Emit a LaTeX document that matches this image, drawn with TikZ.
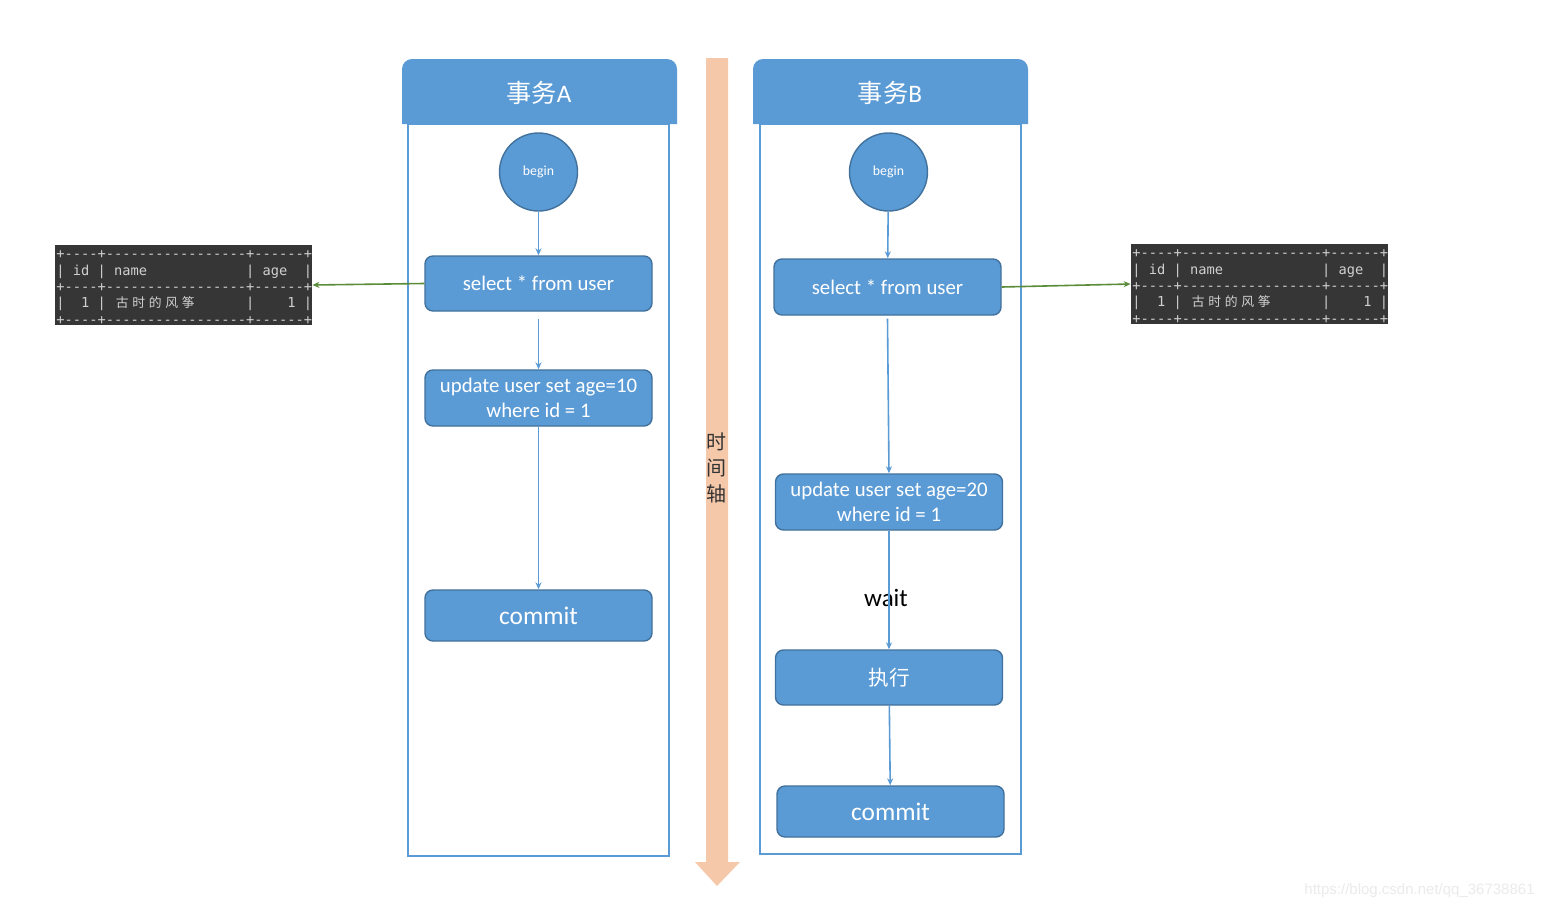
\documentclass[tikz,border=0pt]{standalone}
\usepackage{fontspec}
\setmainfont{Carlito}
\newfontfamily\cjk{Noto Sans CJK SC}
\newfontfamily\mono{DejaVu Sans Mono}[Ligatures=TeXOff]
\newfontfamily\wm{Liberation Sans}
\usetikzlibrary{arrows.meta}
\definecolor{boxblue}{HTML}{5B9BD5}
\definecolor{boxedge}{HTML}{41719C}
\definecolor{timeor}{HTML}{F6C8AA}
\definecolor{tabbg}{HTML}{363636}
\definecolor{tabfg}{HTML}{D0D0D0}
\definecolor{grn}{HTML}{5B8C3A}
\newlength\cw
\setlength\cw{4.124pt}
\newcommand\tabf{\mono\fontsize{6.85pt}{8pt}\selectfont}
\newcommand\cn[1]{\hbox to 2\cw{\hss\cjk\fontsize{6.4pt}{8pt}\selectfont #1\hss}}
\newcommand\sqltab[3]{%
  \begin{scope}[shift={(#2,#3)}]
    \node[tabbox] (#1) at (183.5,285) {};
    \node[tabrow] (#1-r1) at (56,255) {\tabf +----+-----------------+------+};
    \node[tabrow] (#1-r2) at (56,272) {\tabf |~id~|~name~~~~~~~~~~~~|~age~~|};
    \node[tabrow] (#1-r3) at (56,288) {\tabf +----+-----------------+------+};
    \node[tabrow] (#1-r4) at (56,304) {{\tabf |~~1~|~}\cn{古}\cn{时}\cn{的}\cn{风}\cn{筝}{\tabf ~~~~~~|~~~~1~|}};
    \node[tabrow] (#1-r5) at (56,321) {\tabf +----+-----------------+------+};
  \end{scope}}
\begin{document}
\begin{tikzpicture}[x=0.5pt,y=-0.5pt,
  stepbox/.style={draw=boxedge, line width=0.7pt, fill=boxblue, rounded corners=4pt,
    minimum width=113.5pt, text=white, font=\fontsize{10.4pt}{12.5pt}\selectfont,
    align=center, inner sep=0pt},
  beginnode/.style={circle, draw=boxedge, line width=0.7pt, fill=boxblue, minimum size=39pt,
    text=white, font=\fontsize{6.9pt}{8pt}\selectfont, inner sep=0pt},
  flow/.style={draw=boxblue, line width=0.8pt, -{Stealth[length=3.5pt,width=3pt]}},
  link/.style={draw=grn, line width=0.8pt, -{Stealth[length=3.5pt,width=3pt]}},
  frame/.style={draw=boxblue, line width=0.7pt},
  head/.style={fill=boxblue},
  titletext/.style={text=white, font=\fontsize{12.6pt}{14pt}\selectfont},
  tabbox/.style={fill=tabbg, minimum width=128.5pt, minimum height=40pt, inner sep=0pt},
  tabrow/.style={anchor=west, inner sep=0pt, text=tabfg}]
\useasboundingbox (0,0) rectangle (1542,910);
\fill[white] (0,0) rectangle (1542,910);

% time axis
\fill[timeor] (706,58) -- (728,58) -- (728,862) -- (740,862) -- (717,886) -- (695,862) -- (706,862) -- cycle;
\node[align=center, text=black!80, font=\cjk\fontsize{10pt}{13pt}\selectfont, inner sep=0pt] (axis) at (716,468) {时\\间\\轴};

% Transaction A
\draw[frame] (408,124) rectangle (669,856);
\path[head] (402,124) {[rounded corners=5pt] -- (402,59) -- (677,59)} -- (677,124) -- cycle;
\node[titletext] (titleA) at (539,93) {{\cjk 事务}A};
\node[beginnode] (beginA) at (538.5,172) {begin};
\node[stepbox, minimum height=27.5pt] (selA) at (538.5,283.5) {select * from user};
\node[stepbox, minimum height=28pt] (updA) at (538.5,398) {update user set age=10\\where id = 1};
\node[stepbox, minimum height=25.5pt, font=\fontsize{12.7pt}{14pt}\selectfont] (comA) at (538.5,615.5) {commit};
\draw[flow] (beginA) -- (selA);
\draw[flow] ([yshift=-3.5pt]selA.south) -- (updA.north);
\draw[flow] (updA) -- (comA);

% Transaction B
\draw[frame] (760,124) rectangle (1021,854);
\path[head] (753,124) {[rounded corners=5pt] -- (753,59) -- (1028,59)} -- (1028,124) -- cycle;
\node[titletext] (titleB) at (890,93) {{\cjk 事务}B};
\node[beginnode] (beginB) at (888.5,172) {begin};
\node[stepbox, minimum height=28pt] (selB) at (887.5,287) {select * from user};
\node[stepbox, minimum height=28pt] (updB) at (889,502) {update user set age=20\\where id = 1};
\node[text=black, font=\fontsize{12.5pt}{14pt}\selectfont, inner sep=0pt] (waitB) at (886,598) {wait};
\node[stepbox, minimum height=27.5pt, font=\cjk\fontsize{10.3pt}{12pt}\selectfont] (exeB) at (889,677.5) {执行};
\node[stepbox, minimum height=25.5pt, font=\fontsize{12.7pt}{14pt}\selectfont] (comB) at (890.5,811.5) {commit};
\draw[flow] (beginB) -- (selB);
\draw[flow] ([yshift=-1.5pt]selB.south) -- (updB.north);
\draw[flow] (updB) -- (exeB);
\draw[flow] (exeB) -- (comB);

% result tables
\sqltab{tabA}{0}{0}
\sqltab{tabB}{1076}{-1}
\draw[link] (selA.west) -- (tabA.east);
\draw[link] (selB.east) -- (tabB.west);

% watermark
\node[anchor=east, text=black!8, font=\wm\fontsize{7.5pt}{9pt}\selectfont, inner sep=0pt] (mark) at (1535,891) {https://blog.csdn.net/qq\_36738861};
\end{tikzpicture}
\end{document}
